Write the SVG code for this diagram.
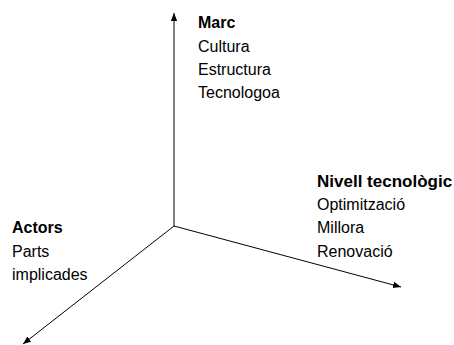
<svg xmlns="http://www.w3.org/2000/svg" width="454" height="345" viewBox="0 0 454 345">
<style>
text{font-family:"Liberation Sans",Arial,Helvetica,sans-serif;font-size:16px;fill:#000}
.b{font-weight:bold}
.ax{stroke:#000;stroke-width:1;fill:none;marker-end:url(#ah)}
</style>
<defs>
<marker id="ah" viewBox="0 0 10 10" refX="10" refY="5" markerWidth="8" markerHeight="8" markerUnits="userSpaceOnUse" orient="auto">
<path d="M0,1 L10,5 L0,9 Z" fill="#000"/>
</marker>
</defs>
<rect width="454" height="345" fill="#fff"/>
<g id="connectors">
<line class="ax" x1="174" y1="226" x2="174" y2="13"/>
<line class="ax" x1="174" y1="226" x2="401" y2="287"/>
<line class="ax" x1="174" y1="226" x2="23" y2="344"/>
</g>
<g id="marc">
<text x="198" y="28" class="b">Marc</text>
<text x="198" y="52">Cultura</text>
<text x="198" y="75">Estructura</text>
<text x="198" y="98">Tecnologoa</text>
</g>
<g id="nivell">
<text x="317" y="187" class="b" style="font-size:17px">Nivell tecnològic</text>
<text x="317" y="210">Optimització</text>
<text x="317" y="233">Millora</text>
<text x="317" y="257">Renovació</text>
</g>
<g id="actors">
<text x="12" y="233" class="b">Actors</text>
<text x="12" y="257">Parts</text>
<text x="12" y="280">implicades</text>
</g>
</svg>
